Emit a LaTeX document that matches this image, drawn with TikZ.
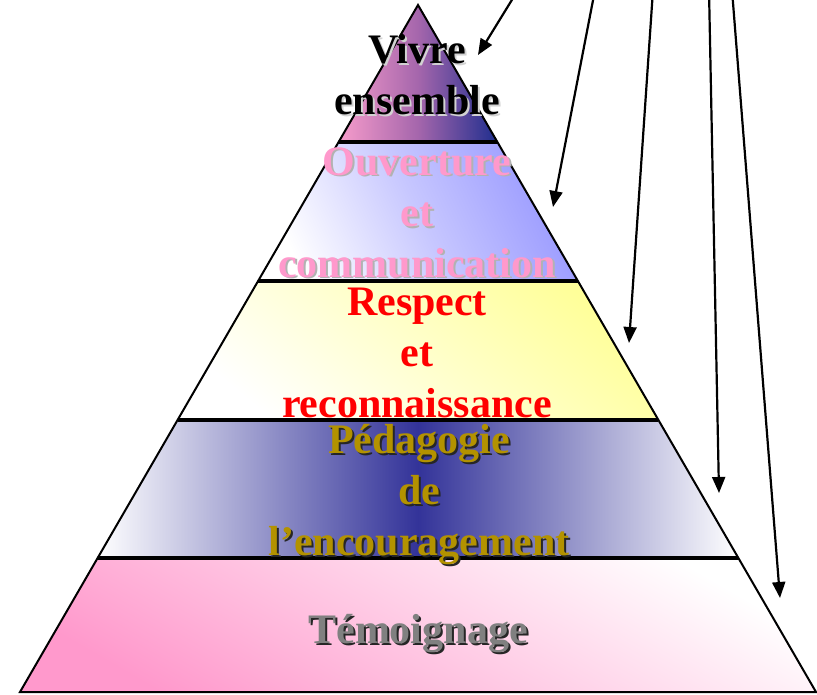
\documentclass[tikz,border=0pt]{standalone}
\usepackage{fontspec}
\setmainfont{Liberation Serif}
\usetikzlibrary{arrows.meta}

\definecolor{vivrerose}{HTML}{F79CCB}
\definecolor{vivremauve}{HTML}{A566AC}
\definecolor{vivrenuit}{HTML}{1F2E8E}
\definecolor{lavande}{HTML}{9999FF}
\definecolor{citron}{HTML}{FFFF99}
\definecolor{encre}{HTML}{333399}
\definecolor{bonbon}{HTML}{FF99CC}
\definecolor{ocre}{HTML}{B39200}

\begin{document}
\begin{tikzpicture}[x = 1pt, y = -1pt,
    every node/.style = { align = center, inner sep = 0pt, anchor = base,
      font = \bfseries\fontsize{42}{51}\selectfont },
    pointer/.style = { line width = 2.2pt, -{Triangle[length = 16pt, width = 13pt]} },
    divider/.style = { line width = 3.5pt }]
  \useasboundingbox (0,0) rectangle (817,695);

  % tiers
  \fill[left color = vivrerose, right color = vivrenuit, middle color = vivremauve]
    (418,5) -- (497.4,142) -- (338.6,142) -- cycle;
  \fill[top color = lavande, bottom color = white, middle color = lavande!55, shading angle = -65]
    (338.6,142) -- (497.4,142) -- (577.9,281) -- (258.1,281) -- cycle;
  \fill[top color = citron, bottom color = white, shading angle = -40]
    (258.1,281) -- (577.9,281) -- (658.4,420) -- (177.6,420) -- cycle;
  \fill[left color = white, right color = white, middle color = encre]
    (177.6,420) -- (658.4,420) -- (738.4,558) -- (97.6,558) -- cycle;
  \fill[top color = white, bottom color = bonbon, shading angle = -30]
    (97.6,558) -- (738.4,558) -- (816,692) -- (20,692) -- cycle;

  \coordinate (apex) at (418,5);
  \coordinate (bl) at (20,692);
  \coordinate (br) at (816,692);
  \draw[line width = 2pt] (apex) -- (br) -- (bl) -- cycle;
  \draw[divider] (338.6,142) -- (497.4,142);
  \draw[divider] (258.1,281) -- (577.9,281);
  \draw[divider] (177.6,420) -- (658.4,420);
  \draw[divider] (97.6,558) -- (738.4,558);

  % labels (base = last line)
  \node[text = gray!35] (vivre-s) at (419,117) {Vivre\\ensemble};
  \node (vivre) at (417,115) {Vivre\\ensemble};
  \node[text = gray!60] (ouverture-s) at (419,279) {Ouverture\\et\\communication};
  \node[text = bonbon] (ouverture) at (417,277) {Ouverture\\et\\communication};
  \node[text = red] (respect) at (417,417) {Respect\\et\\reconnaissance};
  \node[text = black!85] (pedagogie-s) at (421,557) {Pédagogie\\de\\l’encouragement};
  \node[text = ocre] (pedagogie) at (419,555) {Pédagogie\\de\\l’encouragement};
  \node[text = black!85] (temoignage-s) at (420,645) {Témoignage};
  \node[text = gray] (temoignage) at (418,643) {Témoignage};

  % arrows
  \coordinate (from1) at (518,-10);  \coordinate (to1) at (478,55);
  \coordinate (from2) at (595,-10);  \coordinate (to2) at (553,207);
  \coordinate (from3) at (653,-10);  \coordinate (to3) at (629,343);
  \coordinate (from4) at (709,-10);  \coordinate (to4) at (719,493);
  \coordinate (from5) at (732,-10);  \coordinate (to5) at (780,598);
  \foreach \i in {1,...,5}
    \draw[pointer] (from\i) -- (to\i);
\end{tikzpicture}
\end{document}
